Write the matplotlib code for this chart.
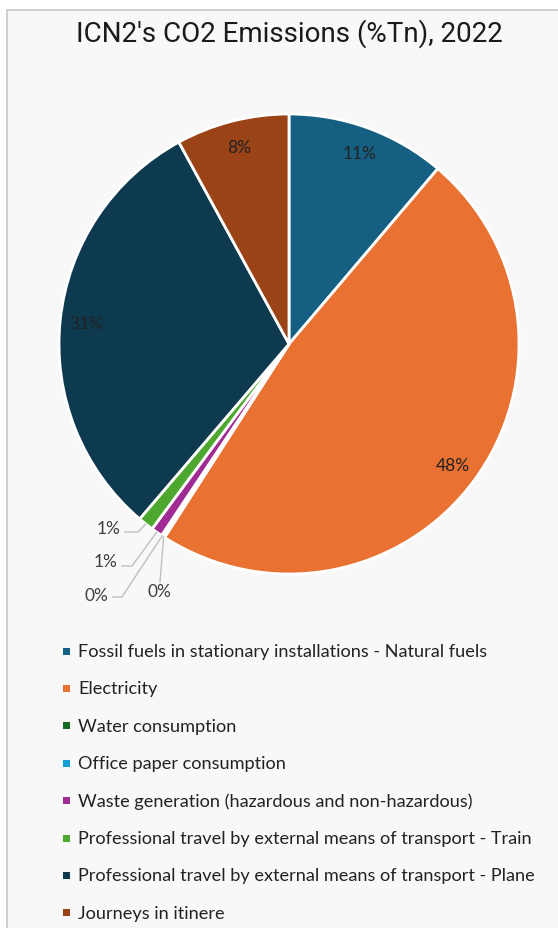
import numpy as np
import matplotlib.pyplot as plt
from matplotlib.patches import Rectangle

## Data
categories = [
    "Fossil fuels in stationary installations - Natural fuels",
    "Electricity",
    "Water consumption",
    "Office paper consumption",
    "Waste generation (hazardous and non-hazardous)",
    "Professional travel by external means of transport - Train",
    "Professional travel by external means of transport - Plane",
    "Journeys in itinere",
]
shares = [11.2, 47.9, 0.15, 0.1, 0.8, 1.1, 30.8, 7.95]
colors = ["#156082", "#E97132", "#196B24", "#0F9ED5",
          "#A02B93", "#4EA72E", "#0D3A4E", "#9A4317"]
title = "ICN2's CO2 Emissions (%Tn), 2022"

W, H = 558, 929
fig = plt.figure(figsize=(W / 100, H / 100), dpi=100)
fig.patch.set_facecolor("white")

# panel background with thin border on top/left
fig.patches.append(Rectangle((7 / W, -0.05), 1.1, 1.05 - 11 / H, transform=fig.transFigure,
                             facecolor="#F8F8F8", edgecolor="#C3CCC3", lw=1.2, zorder=-1))

# pie axes: center (289,345), radius 230 px
cx, cy, r = 289, 345, 230
ax = fig.add_axes([(cx - r) / W, (H - cy - r) / H, 2 * r / W, 2 * r / H], zorder=2)

wedges, _ = ax.pie(shares, colors=colors, startangle=90, counterclock=False, radius=1,
                   wedgeprops=dict(edgecolor="white", linewidth=2))
ax.set_xlim(-1, 1)
ax.set_ylim(-1, 1)
ax.set_aspect("equal")
ax.axis("off")

lbl_font = "Lato"
# big slices: labels inside
for i, w in enumerate(wedges):
    if shares[i] < 5:
        continue
    a = np.deg2rad((w.theta1 + w.theta2) / 2)
    ax.text(0.885 * np.cos(a), 0.885 * np.sin(a), f"{shares[i]:.0f}%",
            ha="center", va="center", fontsize=12.5, family=lbl_font, color="#222222")

# small slices: outside labels with leader lines
def px(x, y):
    return (x - cx) / r, (cy - y) / r

small = {2: [(160, 583), (160, 583)],           # water: vertical line
         3: [(122, 598), (113, 598)],
         4: [(132, 567), (122, 567)],
         5: [(138, 533), (125, 533)]}
text_pos = {2: (159, 592), 3: (96, 596), 4: (106, 562), 5: (109, 529)}
for i, pts in small.items():
    w = wedges[i]
    a = np.deg2rad((w.theta1 + w.theta2) / 2)
    x0, y0 = 1.0 * np.cos(a), 1.0 * np.sin(a)
    p1 = px(*pts[0])
    p2 = px(*pts[1])
    ax.plot([x0, p1[0], p2[0]], [y0, p1[1], p2[1]], color="#BFBFBF", lw=1.0,
            clip_on=False)
    tx, ty = px(*text_pos[i])
    ax.text(tx, ty, f"{shares[i]:.0f}%", ha="center", va="center", fontsize=12.5,
            family=lbl_font, color="#404040", clip_on=False)

fig.text(289 / W, 1 - 34 / H, title, ha="center", va="center", fontsize=20,
         family="Roboto", color="#1a1a1a")

# legend
y0_leg, dy_leg = 652, 37.4
for i, (cat, col) in enumerate(zip(categories, colors)):
    yy = y0_leg + i * dy_leg
    fig.patches.append(Rectangle((63 / W, 1 - (yy + 3.5) / H), 7 / W, 7 / H,
                                 transform=fig.transFigure, facecolor=col, lw=0))
    fig.text(78 / W, 1 - yy / H, cat, ha="left", va="center", fontsize=13.1,
             family=lbl_font, color="#222222")

fig.savefig("out.png", dpi=100)
